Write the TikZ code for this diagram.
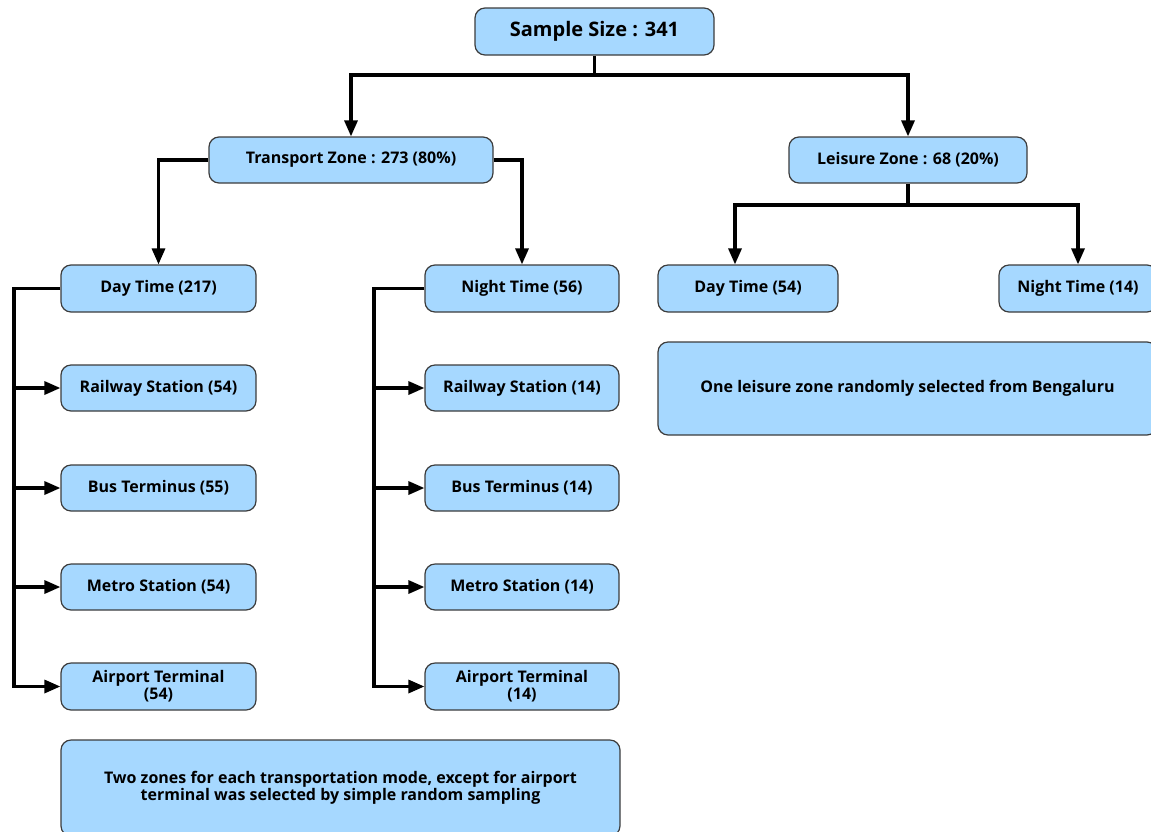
\documentclass[tikz,border=0pt]{standalone}
\usepackage{fontspec}
\setmainfont{Open Sans}
\usepackage{xcolor}
\usetikzlibrary{arrows.meta, positioning}
\definecolor{BoxBlue}{HTML}{A6D8FF}
\definecolor{EdgeGrey}{HTML}{3C3C3C}

\tikzset{
  box/.style={draw=EdgeGrey, fill=BoxBlue, line width=0.6pt, rounded corners=5pt, inner sep=0pt, align=center, minimum height=23.5pt, font=\fontsize{8}{8.5}\selectfont\bfseries},
  wire/.style={line width=1.6pt},
  link/.style={wire, -{Triangle[length=8pt, width=6.5pt]}}
}

\begin{document}
\begin{tikzpicture}[x=0.5pt, y=-0.5pt]
  \useasboundingbox (0,0) rectangle (1151,831);
  % top levels
  \node (total) [box, minimum width=119.5pt, font=\fontsize{10}{12}\selectfont\bfseries] at (594.5,31.5) {Sample Size : 341};
  \node (transport) [box, minimum width=142pt, minimum height=23pt] at (351,160) {Transport Zone : 273 (80\%)};
  \node (leisure) [box, minimum width=119pt, minimum height=23pt] at (908,160) {Leisure Zone : 68 (20\%)};
  % transport zone
  \node (dayT) [box, minimum width=97.5pt] at (158.5,288.5) {Day Time (217)};
  \node (nightT) [box, minimum width=97pt] at (522,288.5) {Night Time (56)};
  \node (railL) [box, minimum width=97.5pt, minimum height=23pt] at (158.5,388) {Railway Station (54)};
  \node (busL) [box, minimum width=97.5pt, minimum height=23pt] at (158.5,488) {Bus Terminus (55)};
  \node (metroL) [box, minimum width=97.5pt, minimum height=23pt] at (158.5,587) {Metro Station (54)};
  \node (airL) [box, minimum width=97.5pt] at (158.5,686.5) {Airport Terminal\\(54)};
  \node (railR) [box, minimum width=97pt, minimum height=23pt] at (522,388) {Railway Station (14)};
  \node (busR) [box, minimum width=97pt, minimum height=23pt] at (522,488) {Bus Terminus (14)};
  \node (metroR) [box, minimum width=97pt, minimum height=23pt] at (522,587) {Metro Station (14)};
  \node (airR) [box, minimum width=97pt] at (522,686.5) {Airport Terminal\\(14)};
  \node (noteT) [box, minimum width=279.5pt, minimum height=48pt] at (340.5,788) {Two zones for each transportation mode, except for airport\\terminal was selected by simple random sampling};
  % leisure zone
  \node (dayL) [box, minimum width=90pt] at (748,288.5) {Day Time (54)};
  \node (nightL) [box, minimum width=79pt] at (1078,288.5) {Night Time (14)};
  \node (noteL) [box, minimum width=249.5pt, minimum height=46.5pt] at (907.5,388.5) {One leisure zone randomly selected from Bengaluru};

  % connectors
  \coordinate (tjoin) at (594.5,75);
  \draw[wire] (total) -- (tjoin);
  \draw[link] (tjoin) -| (transport);
  \draw[link] (tjoin) -| (leisure);
  \draw[link] (transport.west) -| (dayT);
  \draw[link] (transport.east) -| (nightT);
  \coordinate (ljoin) at (908,205);
  \draw[wire] (leisure) -- (ljoin);
  \draw[link] (ljoin) -| ([xshift=-6.5pt]dayL.north);
  \draw[link] (ljoin) -| (nightL);
  % side spines
  \coordinate (lspine) at (14,288.5);
  \coordinate (rspine) at (374,288.5);
  \draw[link] (dayT.west) -- (lspine) |- (airL.west);
  \draw[link] (nightT.west) -- (rspine) |- (airR.west);
  \foreach \n in {railL, busL, metroL}
    \draw[link] (lspine |- \n.west) -- (\n.west);
  \foreach \n in {railR, busR, metroR}
    \draw[link] (rspine |- \n.west) -- (\n.west);
\end{tikzpicture}
\end{document}
